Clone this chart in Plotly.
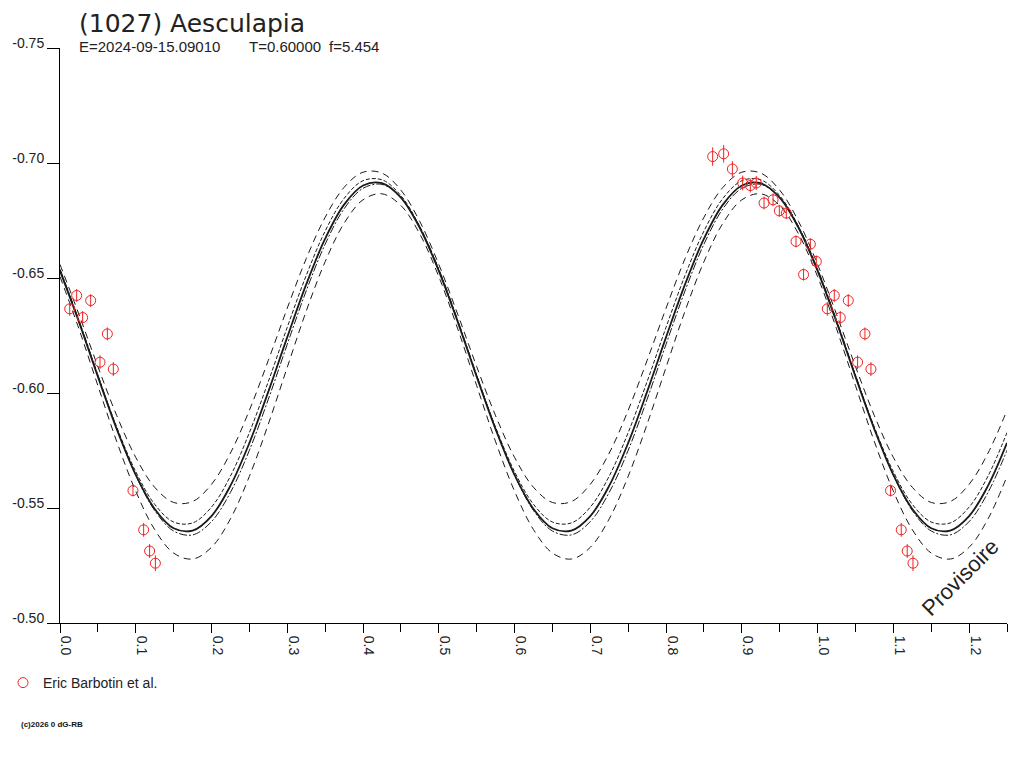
import plotly.graph_objects as go

# phase grid of the fitted light curves (values every 0.025)
fit_phase = [
    0.000, 0.025, 0.050, 0.075, 0.100, 0.125, 0.150, 0.175, 0.200, 0.225,
    0.250, 0.275, 0.300, 0.325, 0.350, 0.375, 0.400, 0.425, 0.450, 0.475,
    0.500, 0.525, 0.550, 0.575, 0.600, 0.625, 0.650, 0.675, 0.700, 0.725,
    0.750, 0.775, 0.800, 0.825, 0.850, 0.875, 0.900, 0.925, 0.950, 0.975,
    1.000, 1.025, 1.050, 1.075, 1.100, 1.125, 1.150, 1.175, 1.200, 1.225,
    1.250,
]

# best fit (solid)
fit_mag = [
    -0.6531, -0.6309, -0.6071, -0.5842, -0.5644, -0.5496, -0.5412, -0.5402, -0.5465, -0.5597,
    -0.5783, -0.6006, -0.6243, -0.6472, -0.6671, -0.6819, -0.6902, -0.6912, -0.6849, -0.6717,
    -0.6531, -0.6309, -0.6071, -0.5842, -0.5644, -0.5496, -0.5412, -0.5402, -0.5465, -0.5597,
    -0.5783, -0.6006, -0.6243, -0.6472, -0.6671, -0.6819, -0.6902, -0.6912, -0.6849, -0.6717,
    -0.6531, -0.6309, -0.6071, -0.5842, -0.5644, -0.5496, -0.5412, -0.5402, -0.5465, -0.5597,
    -0.5783,
]

# inner envelope
inner_a = [
    -0.6535, -0.6312, -0.6076, -0.5851, -0.5658, -0.5516, -0.5439, -0.5435, -0.5504, -0.5639,
    -0.5828, -0.6050, -0.6286, -0.6511, -0.6704, -0.6846, -0.6923, -0.6927, -0.6858, -0.6723,
    -0.6535, -0.6312, -0.6076, -0.5851, -0.5658, -0.5516, -0.5439, -0.5435, -0.5504, -0.5639,
    -0.5828, -0.6050, -0.6286, -0.6511, -0.6704, -0.6846, -0.6923, -0.6927, -0.6858, -0.6723,
    -0.6535, -0.6312, -0.6076, -0.5851, -0.5658, -0.5516, -0.5439, -0.5435, -0.5504, -0.5639,
    -0.5828,
]
inner_b = [
    -0.6539, -0.6317, -0.6078, -0.5846, -0.5643, -0.5489, -0.5400, -0.5383, -0.5441, -0.5568,
    -0.5751, -0.5973, -0.6212, -0.6444, -0.6647, -0.6801, -0.6890, -0.6907, -0.6849, -0.6722,
    -0.6539, -0.6317, -0.6078, -0.5846, -0.5643, -0.5489, -0.5400, -0.5383, -0.5441, -0.5568,
    -0.5751, -0.5973, -0.6212, -0.6444, -0.6647, -0.6801, -0.6890, -0.6907, -0.6849, -0.6722,
    -0.6539, -0.6317, -0.6078, -0.5846, -0.5643, -0.5489, -0.5400, -0.5383, -0.5441, -0.5568,
    -0.5751,
]

# outer envelope (dashed)
outer_a = [
    -0.6559, -0.6342, -0.6115, -0.5901, -0.5720, -0.5590, -0.5524, -0.5528, -0.5603, -0.5739,
    -0.5925, -0.6142, -0.6369, -0.6584, -0.6764, -0.6894, -0.6960, -0.6956, -0.6882, -0.6745,
    -0.6559, -0.6342, -0.6115, -0.5901, -0.5720, -0.5590, -0.5524, -0.5528, -0.5603, -0.5739,
    -0.5925, -0.6142, -0.6369, -0.6584, -0.6764, -0.6894, -0.6960, -0.6956, -0.6882, -0.6745,
    -0.6559, -0.6342, -0.6115, -0.5901, -0.5720, -0.5590, -0.5524, -0.5528, -0.5603, -0.5739,
    -0.5925,
]
outer_b = [
    -0.6506, -0.6279, -0.6032, -0.5788, -0.5573, -0.5406, -0.5304, -0.5278, -0.5329, -0.5453,
    -0.5638, -0.5865, -0.6112, -0.6356, -0.6571, -0.6738, -0.6840, -0.6866, -0.6815, -0.6691,
    -0.6506, -0.6279, -0.6032, -0.5788, -0.5573, -0.5406, -0.5304, -0.5278, -0.5329, -0.5453,
    -0.5638, -0.5865, -0.6112, -0.6356, -0.6571, -0.6738, -0.6840, -0.6866, -0.6815, -0.6691,
    -0.6506, -0.6279, -0.6032, -0.5788, -0.5573, -0.5406, -0.5304, -0.5278, -0.5329, -0.5453,
    -0.5638,
]

# observations (phase, reduced magnitude, error)
obs_phase = [
    0.0128, 0.0220, 0.0299, 0.0405, 0.0528, 0.0625, 0.0704, 0.0963, 0.1104, 0.1183, 0.1259,
    0.8615, 0.8760, 0.8875, 0.9011, 0.9112, 0.9191, 0.9293, 0.9412, 0.9495, 0.9587,
    0.9715, 0.9815, 0.9904, 0.9983,
]
obs_mag = [
    -0.6366, -0.6424, -0.6328, -0.6402, -0.6134, -0.6257, -0.6104, -0.5576, -0.5405, -0.5313, -0.5260,
    -0.7028, -0.7040, -0.6974, -0.6913, -0.6902, -0.6913, -0.6826, -0.6840, -0.6792, -0.6782,
    -0.6659, -0.6515, -0.6647, -0.6572,
]
obs_err = [
    0.0030, 0.0028, 0.0028, 0.0028, 0.0030, 0.0028, 0.0030, 0.0026, 0.0030, 0.0030, 0.0034,
    0.0040, 0.0038, 0.0034, 0.0032, 0.0030, 0.0030, 0.0028, 0.0028, 0.0026, 0.0026,
    0.0026, 0.0026, 0.0026, 0.0026,
]

x_tickvals = [0.0, 0.1, 0.2, 0.3, 0.4, 0.5, 0.6, 0.7, 0.8, 0.9, 1.0, 1.1, 1.2]
x_ticktext = ['0.0', '0.1', '0.2', '0.3', '0.4', '0.5', '0.6', '0.7', '0.8', '0.9', '1.0', '1.1', '1.2']
y_tickvals = [-0.75, -0.70, -0.65, -0.60, -0.55, -0.50]
y_ticktext = ['-0.75', '-0.70', '-0.65', '-0.60', '-0.55', '-0.50']

INK = '#1a1a1a'
RED = '#ee2222'
FONT = 'Liberation Sans, Arial, sans-serif'

# page pixels -> paper coords (plot area spans x 60..1007, y 48..623 on the page)
def px(x):
    return (x - 60) / 947.0

def py(y):
    return (623 - y) / 575.0

fig = go.Figure()

curves = [
    (outer_a, dict(color=INK, width=1, dash='7px,5px')),
    (outer_b, dict(color=INK, width=1, dash='7px,5px')),
    (inner_a, dict(color=INK, width=1, dash='4px,2px')),
    (inner_b, dict(color=INK, width=1, dash='8px,2px,2px,2px')),
    (fit_mag, dict(color=INK, width=1.8)),
]
for ys, line in curves:
    fig.add_trace(go.Scatter(
        x=fit_phase, y=ys, mode='lines', line=dict(shape='spline', **line),
        showlegend=False, hoverinfo='skip'
    ))

# the observations are shown twice, at phase and phase + 1
fig.add_trace(go.Scatter(
    x=obs_phase + [p + 1 for p in obs_phase],
    y=obs_mag + obs_mag,
    mode='markers',
    name='Eric Barbotin et al.',
    marker=dict(symbol='circle-open', size=10, color=RED, line=dict(width=1, color=RED)),
    error_y=dict(type='data', array=obs_err + obs_err, color=RED, thickness=1, width=0),
    cliponaxis=True,
))

fig.update_layout(
    width=1016, height=760,
    margin=dict(l=52, r=17, t=40, b=145, autoexpand=False),
    paper_bgcolor='white', plot_bgcolor='white',
    font=dict(family=FONT, size=14, color='#222222'),
    showlegend=True,
    legend=dict(x=px(3), y=py(683), xanchor='left', yanchor='middle',
                font=dict(size=14, color='#222222'), bgcolor='rgba(0,0,0,0)',
                itemwidth=30),
    annotations=[
        dict(text='(1027) Aesculapia', x=px(77), y=py(23), xref='paper', yref='paper',
             xanchor='left', yanchor='middle', showarrow=False,
             font=dict(family='DejaVu Sans', size=25, color='#222222')),
        dict(text='E=2024-09-15.09010', x=px(77), y=py(47), xref='paper', yref='paper',
             xanchor='left', yanchor='middle', showarrow=False, font=dict(size=15)),
        dict(text='T=0.60000', x=px(247), y=py(47), xref='paper', yref='paper',
             xanchor='left', yanchor='middle', showarrow=False, font=dict(size=15)),
        dict(text='f=5.454', x=px(327), y=py(47), xref='paper', yref='paper',
             xanchor='left', yanchor='middle', showarrow=False, font=dict(size=15)),
        dict(text='Provisoire', x=px(960), y=py(577), xref='paper', yref='paper',
             xanchor='center', yanchor='middle', showarrow=False, textangle=-45,
             font=dict(size=22, color='#222222')),
        dict(text='<b>(c)2026 0 dG-RB</b>', x=px(19), y=py(724), xref='paper', yref='paper',
             xanchor='left', yanchor='middle', showarrow=False,
             font=dict(size=8, color='#111111')),
    ],
)

fig.update_xaxes(
    range=[0, 1.25], showgrid=False, zeroline=False,
    showline=True, linecolor='black', linewidth=1,
    tickmode='array', tickvals=x_tickvals, ticktext=x_ticktext,
    ticks='outside', ticklen=9, tickcolor='black', tickwidth=1,
    tickangle=90, ticklabelshift=6,
    minor=dict(dtick=0.05, tick0=0, ticks='outside', ticklen=8, tickcolor='black'),
    tickfont=dict(size=14, color='#222222'),
)

fig.update_yaxes(
    range=[-0.50, -0.75], showgrid=False, zeroline=False,
    showline=True, linecolor='black', linewidth=1,
    tickmode='array', tickvals=y_tickvals, ticktext=y_ticktext,
    ticks='outside', ticklen=12, tickcolor='black', tickwidth=1,
    ticklabelshift=5,
    tickfont=dict(size=14, color='#222222'),
)

fig.write_html('out.html')
